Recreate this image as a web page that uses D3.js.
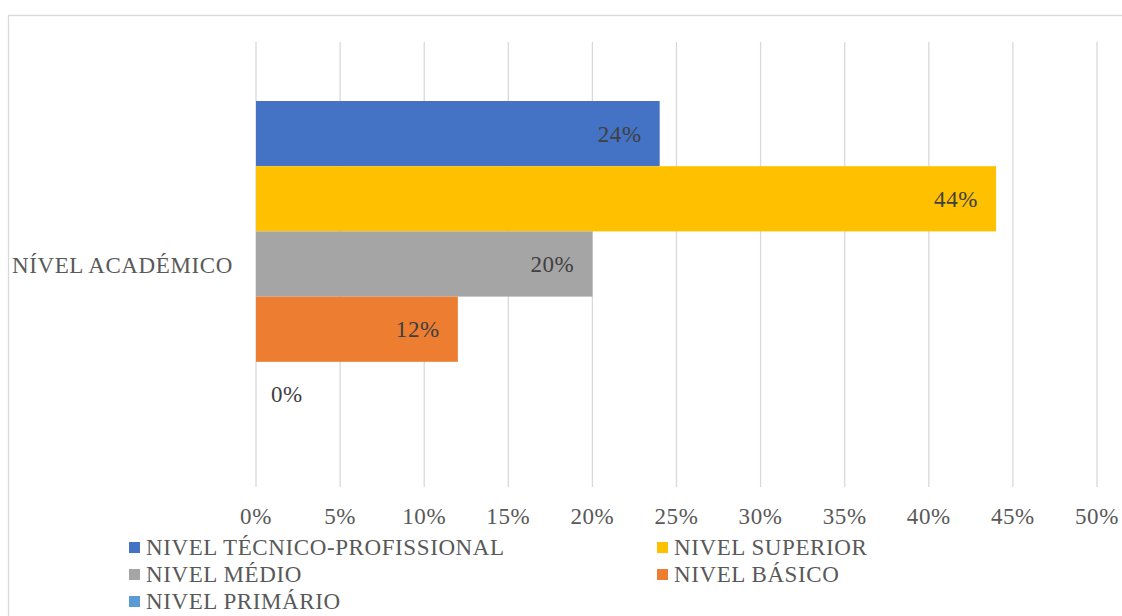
<!DOCTYPE html>
<head>
  <meta charset="UTF-8">
  <title>nivel academico</title>
  <style>
  body, html, svg { padding: 0; margin: 0; }
  body { background: #fff; }
  </style>
</head>
<body>
  <script src="https://cdn.jsdelivr.net/npm/d3@7"></script>
  <script type="text/javascript">
  var categoria = 'NÍVEL ACADÉMICO';
  var series = ['NIVEL TÉCNICO-PROFISSIONAL', 'NIVEL SUPERIOR', 'NIVEL MÉDIO', 'NIVEL BÁSICO', 'NIVEL PRIMÁRIO'];
  var valores = [0.24, 0.44, 0.20, 0.12, 0];
  var cores = ['#4472C4', '#FFC000', '#A5A5A5', '#ED7D31', '#5B9BD5'];
  var ticks = [0, 0.05, 0.1, 0.15, 0.2, 0.25, 0.3, 0.35, 0.4, 0.45, 0.5];

  var width = 1122, height = 616;
  var fonte = '"Times New Roman", Tinos, "Liberation Serif", serif';
  var tam = 23, esp = 0.6;
  var svg = d3.select('body').append('svg')
    .attr('width', width)
    .attr('height', height);

  // moldura
  svg.append('rect')
    .attr('x', 8.5).attr('y', 15.5)
    .attr('width', 1200).attr('height', 700)
    .attr('fill', '#fff')
    .attr('stroke', '#d9d9d9')
    .attr('stroke-width', 1.3);

  var x = d3.scaleLinear().domain([0, 0.5]).range([256, 1097]);
  var gTop = 42, gBottom = 487;
  var y = d3.scaleBand().domain(series).range([gTop + 59, gBottom - 60]);

  function texto(sel) {
    return sel.style('font-family', fonte)
      .style('font-size', tam + 'px')
      .style('letter-spacing', esp + 'px');
  }

  // grade
  svg.selectAll('.grid')
    .data(ticks)
    .enter()
    .append('line')
    .attr('x1', function(d) { return x(d); })
    .attr('x2', function(d) { return x(d); })
    .attr('y1', gTop)
    .attr('y2', gBottom)
    .attr('stroke', '#d9d9d9')
    .attr('stroke-width', 1.3);

  // barras
  svg.selectAll('.bar')
    .data(valores)
    .enter()
    .append('rect')
    .attr('x', x(0))
    .attr('y', function(d, i) { return y(series[i]); })
    .attr('width', function(d) { return x(d) - x(0); })
    .attr('height', y.bandwidth())
    .attr('fill', function(d, i) { return cores[i]; });

  // rotulos
  svg.selectAll('.lbl')
    .data(valores)
    .enter()
    .append('text')
    .attr('x', function(d) { return d > 0 ? x(d) - 18 : x(0) + 15; })
    .attr('y', function(d, i) { return y(series[i]) + y.bandwidth() / 2 + 8; })
    .attr('text-anchor', function(d) { return d > 0 ? 'end' : 'start'; })
    .attr('fill', '#404040')
    .call(texto)
    .text(function(d) { return Math.round(d * 100) + '%'; });

  // categoria
  svg.append('text')
    .attr('x', 12)
    .attr('y', (gTop + gBottom) / 2 + 8)
    .attr('fill', '#595959')
    .call(texto)
    .text(categoria);

  // eixo x
  svg.selectAll('.tick')
    .data(ticks)
    .enter()
    .append('text')
    .attr('x', function(d) { return x(d); })
    .attr('y', 524)
    .attr('text-anchor', 'middle')
    .attr('fill', '#595959')
    .call(texto)
    .text(function(d) { return Math.round(d * 100) + '%'; });

  // legenda
  var leg = svg.selectAll('.leg')
    .data(series)
    .enter()
    .append('g')
    .attr('transform', function(d, i) {
      return 'translate(' + (i % 2 === 0 ? 129 : 657) + ',' + (547 + Math.floor(i / 2) * 27) + ')';
    });
  leg.append('rect')
    .attr('x', 0).attr('y', -5)
    .attr('width', 11).attr('height', 11)
    .attr('fill', function(d, i) { return cores[i]; });
  leg.append('text')
    .attr('x', 17).attr('y', 8)
    .attr('fill', '#595959')
    .call(texto)
    .text(function(d) { return d; });
  </script>
</body>
</html>
